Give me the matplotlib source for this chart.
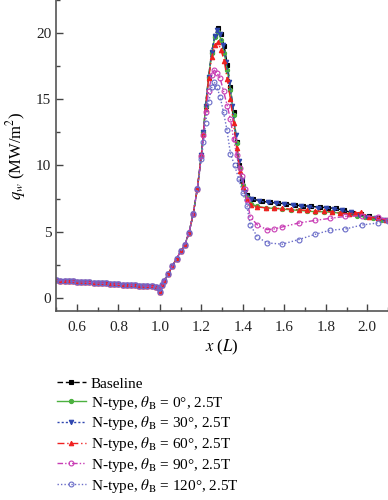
import matplotlib
matplotlib.use("Agg")
import matplotlib.pyplot as plt
from matplotlib.ticker import MultipleLocator

plt.rcParams['font.family'] = ['Liberation Serif', 'DejaVu Serif']
plt.rcParams['mathtext.fontset'] = 'stix'

# gemeenschappelijk deel (voor de schok vallen alle curves samen)
x_pre = [0.50, 0.52, 0.54, 0.56, 0.58, 0.60, 0.62, 0.64, 0.66, 0.68, 0.70, 0.72,
         0.74, 0.76, 0.78, 0.80, 0.82, 0.84, 0.86, 0.88, 0.90, 0.92, 0.94, 0.96,
         0.98, 0.995, 1.00, 1.01, 1.02, 1.04, 1.06, 1.08, 1.10, 1.12, 1.14, 1.16,
         1.18]
q_pre = [1.32, 1.30, 1.28, 1.26, 1.24, 1.22, 1.20, 1.18, 1.16, 1.14, 1.12, 1.10,
         1.08, 1.06, 1.04, 1.02, 1.00, 0.98, 0.96, 0.94, 0.92, 0.90, 0.88, 0.86,
         0.84, 0.72, 0.45, 0.95, 1.30, 1.80, 2.40, 2.95, 3.50, 4.00, 4.90, 6.30,
         8.20]

# baseline
x_base = [1.20, 1.21, 1.22, 1.235, 1.25, 1.265, 1.28, 1.295, 1.31, 1.325, 1.34,
          1.355, 1.37, 1.38, 1.395, 1.42, 1.45, 1.49, 1.53, 1.57, 1.61, 1.65,
          1.69, 1.73, 1.77, 1.81, 1.85, 1.89, 1.93, 1.97, 2.01, 2.05, 2.09]
q_base = [10.8, 12.5, 14.5, 16.7, 18.6, 19.8, 20.4, 19.9, 19.0, 17.6, 15.9,
          14.0, 11.8, 10.0, 8.8, 7.75, 7.45, 7.3, 7.2, 7.15, 7.1, 7.0,
          6.95, 6.9, 6.85, 6.8, 6.75, 6.6, 6.4, 6.3, 6.15, 6.0, 5.9]

# N-type, 0 graden
x_0 = [1.20, 1.21, 1.22, 1.235, 1.25, 1.265, 1.28, 1.295, 1.31, 1.325, 1.34,
       1.355, 1.37, 1.385, 1.40, 1.42, 1.44, 1.47, 1.51, 1.55, 1.59, 1.63,
       1.67, 1.71, 1.75, 1.79, 1.83, 1.87, 1.91, 1.95, 1.99, 2.03, 2.07, 2.10]
q_0 = [10.8, 12.5, 14.5, 16.7, 18.5, 19.7, 20.1, 19.5, 18.5, 17.2, 15.7,
       13.8, 11.7, 9.8, 8.5, 7.6, 7.1, 6.9, 6.8, 6.75, 6.7, 6.65,
       6.6, 6.55, 6.5, 6.5, 6.45, 6.4, 6.3, 6.2, 6.1, 6.0, 5.9, 5.85]

# N-type, 30 graden
x_30 = [1.20, 1.21, 1.22, 1.235, 1.25, 1.265, 1.275, 1.29, 1.305, 1.32, 1.335,
        1.35, 1.365, 1.38, 1.395, 1.41, 1.44, 1.48, 1.52, 1.56, 1.60, 1.64,
        1.68, 1.72, 1.76, 1.80, 1.84, 1.88, 1.92, 1.96, 2.00, 2.04, 2.08]
q_30 = [10.8, 12.5, 14.5, 16.7, 18.6, 19.8, 20.2, 19.9, 19.1, 17.8, 16.3,
        14.5, 12.3, 10.3, 8.9, 8.0, 7.5, 7.3, 7.2, 7.15, 7.1, 7.0,
        6.9, 6.85, 6.8, 6.8, 6.7, 6.6, 6.45, 6.25, 6.1, 6.0, 5.9]

# N-type, 60 graden
x_60 = [1.20, 1.21, 1.22, 1.235, 1.25, 1.265, 1.28, 1.295, 1.31, 1.325, 1.34,
        1.355, 1.37, 1.385, 1.40, 1.42, 1.44, 1.47, 1.51, 1.55, 1.59, 1.63,
        1.67, 1.71, 1.75, 1.79, 1.83, 1.87, 1.91, 1.94, 1.97, 2.01, 2.05, 2.09]
q_60 = [10.8, 12.4, 14.3, 16.6, 18.2, 19.1, 19.3, 18.7, 17.9, 16.5, 15.0,
        13.2, 11.3, 9.6, 8.4, 7.5, 7.0, 6.85, 6.8, 6.75, 6.75, 6.7,
        6.65, 6.6, 6.55, 6.55, 6.5, 6.4, 6.35, 6.4, 6.45, 6.1, 6.0, 5.9]

# N-type, 90 graden
x_90 = [1.20, 1.21, 1.22, 1.235, 1.25, 1.262, 1.275, 1.29, 1.307, 1.325, 1.34,
        1.355, 1.37, 1.385, 1.396, 1.41, 1.42, 1.436, 1.47, 1.516, 1.55, 1.59,
        1.67, 1.75, 1.82, 1.895, 1.975, 2.05, 2.10]
q_90 = [10.7, 12.3, 14.0, 15.6, 16.8, 17.2, 17.0, 16.6, 15.6, 14.5, 13.5,
        12.0, 10.8, 9.8, 9.2, 8.2, 7.4, 6.1, 5.5, 5.15, 5.2, 5.35,
        5.65, 5.85, 6.0, 6.15, 6.2, 6.1, 5.9]

# N-type, 120 graden
x_120 = [1.20, 1.21, 1.22, 1.235, 1.25, 1.262, 1.275, 1.29, 1.307, 1.323, 1.34,
         1.36, 1.38, 1.40, 1.42, 1.436, 1.47, 1.516, 1.59, 1.67, 1.75, 1.82,
         1.895, 1.975, 2.05, 2.10]
q_120 = [10.5, 11.8, 13.2, 14.8, 15.9, 16.3, 15.9, 15.2, 14.0, 12.7, 10.9,
         10.0, 9.0, 7.9, 6.9, 5.5, 4.6, 4.15, 4.05, 4.4, 4.8, 5.1,
         5.2, 5.5, 5.65, 5.8]

labels = ["Baseline",
          r"N-type, $\theta_{\rm B}$ = 0°, 2.5T",
          r"N-type, $\theta_{\rm B}$ = 30°, 2.5T",
          r"N-type, $\theta_{\rm B}$ = 60°, 2.5T",
          r"N-type, $\theta_{\rm B}$ = 90°, 2.5T",
          r"N-type, $\theta_{\rm B}$ = 120°, 2.5T"]

fig = plt.figure(figsize=(3.88, 5.0), dpi=100)
ax = fig.add_axes([0.145, 0.378, 0.855, 0.622])

series = [
    (x_base, q_base, dict(color="black", ls=(0, (4, 2)), marker="s", ms=3.0, mfc="black")),
    (x_0, q_0, dict(color="#4cb140", ls="-", marker="o", ms=3.0, mfc="#4cb140")),
    (x_30, q_30, dict(color="#2f47b0", ls=(0, (1.5, 1.5)), marker="v", ms=3.2, mfc="#2f47b0")),
    (x_60, q_60, dict(color="#f02020", ls=(0, (5, 2, 1, 2)), marker="^", ms=3.2, mfc="#f02020")),
    (x_90, q_90, dict(color="#c83cb4", ls=(0, (4, 1.5, 1, 1.5, 1, 1.5)), marker="o", ms=3.5, mfc="none")),
    (x_120, q_120, dict(color="#6a6cc8", ls=(0, (1, 1.5)), marker="o", ms=3.5, mfc="none")),
]

handles = []
for (xs, qs, st), lab in zip(series, labels):
    h, = ax.plot(x_pre + xs, q_pre + qs, lw=1.0, mew=0.8, label=lab, **st)
    handles.append(h)

ax.set_xlim(0.5, 2.1)
ax.set_ylim(-1.0, 22.5)
ax.xaxis.set_major_locator(MultipleLocator(0.2))
ax.xaxis.set_minor_locator(MultipleLocator(0.1))
ax.yaxis.set_major_locator(MultipleLocator(5))
ax.yaxis.set_minor_locator(MultipleLocator(2.5))
ax.tick_params(which="both", direction="in", colors="#444444", labelsize=11)
ax.tick_params(which="major", length=5, width=1)
ax.tick_params(which="minor", length=3, width=1)
ax.tick_params(axis="x", pad=7)
ax.xaxis.set_major_formatter(plt.FuncFormatter(lambda v, p: f"{v:.1f}"))
for s in ["top", "right"]:
    ax.spines[s].set_visible(False)
for s in ["left", "bottom"]:
    ax.spines[s].set_color("#555555")
    ax.spines[s].set_linewidth(1.2)
for t in ax.get_xticklabels() + ax.get_yticklabels():
    t.set_color("#222222")

ax.set_xlabel(r"$x$ ($L$)", fontsize=12, labelpad=3)
ax.set_ylabel(r"$q_w$ (MW/m$^2$)", fontsize=12, labelpad=6)

fig.legend(handles=handles, loc="upper left", bbox_to_anchor=(0.13, 0.258),
           frameon=False, fontsize=11, handlelength=1.9, handletextpad=0.35,
           labelspacing=0.18, borderaxespad=0)

fig.savefig("out.png", dpi=100)
